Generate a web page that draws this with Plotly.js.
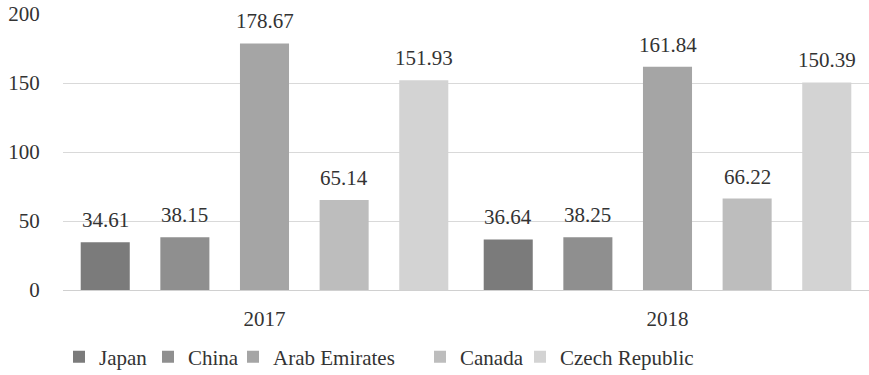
<!DOCTYPE html>
<html>
<head>
<meta charset="utf-8">
<script src="https://cdn.plot.ly/plotly-3.0.1.min.js"></script>
<style>
html,body{margin:0;padding:0;background:#fff;}
#chart{position:relative;width:869px;height:375px;}
#fontwarm{position:absolute;left:0;top:0;z-index:-1;color:#ffffff;font-family:'Liberation Serif';font-size:21px;white-space:nowrap;}
</style>
</head>
<body>
<div id="fontwarm">Japan China Arab Emirates Canada Czech Republic 0123456789.</div>
<div id="chart"></div>
<script>
const years = ["2017", "2018"];
const seriesNames = ["Japan", "China", "Arab Emirates", "Canada", "Czech Republic"];
const japan = [34.61, 36.64];
const china = [38.15, 38.25];
const arabEmirates = [178.67, 161.84];
const canada = [65.14, 66.22];
const czechRepublic = [151.93, 150.39];
const seriesValues = [japan, china, arabEmirates, canada, czechRepublic];
const colors = ["#7b7b7b", "#8f8f8f", "#a5a5a5", "#bdbdbd", "#d3d3d3"];
// legend text start positions (px) as in the reference
const legendTextX = [99, 188, 273, 460, 560];

const FONT = "Liberation Serif";
const TXT = "#333333";
const FS = 21;
const bargap = 0.012;
const bargroupgap = 0.384;
const M = { l: 63, r: 0, t: 14, b: 85 };
const W = 869, H = 375;
const plotW = W - M.l - M.r;

const legendKeys = ["legend", "legend2", "legend3", "legend4", "legend5"];

function build() {
  const traces = seriesNames.map((name, i) => ({
    type: "bar",
    name: name,
    x: years,
    y: seriesValues[i],
    marker: { color: colors[i] },
    legend: legendKeys[i],
    hoverinfo: "skip"
  }));

  const n = seriesNames.length;
  const slot = (1 - bargap) / n;
  const annotations = [];
  seriesValues.forEach((vals, i) => {
    vals.forEach((v, j) => {
      annotations.push({
        xref: "x", yref: "y",
        x: j + (i - (n - 1) / 2) * slot,
        y: v,
        text: v.toFixed(2),
        showarrow: false,
        yanchor: "bottom",
        yshift: 8,
        font: { family: FONT, size: FS, color: TXT }
      });
    });
  });

  const layout = {
    width: W, height: H,
    margin: M,
    paper_bgcolor: "rgba(255,255,255,0)",
    plot_bgcolor: "rgba(255,255,255,0)",
    barmode: "group",
    bargap: bargap,
    bargroupgap: bargroupgap,
    showlegend: true,
    font: { family: FONT, size: FS, color: TXT },
    xaxis: {
      type: "category",
      showgrid: false,
      showline: false,
      zeroline: false,
      ticks: "outside", ticklen: 10, tickcolor: "rgba(0,0,0,0)",
      tickfont: { family: FONT, size: FS, color: TXT }
    },
    yaxis: {
      range: [0, 200],
      tickvals: [0, 50, 100, 150, 200],
      showgrid: true,
      gridcolor: "#d9d9d9",
      gridwidth: 1,
      zeroline: true,
      zerolinecolor: "#d0d0d0",
      zerolinewidth: 1,
      showline: false,
      ticks: "outside", ticklen: 18, tickcolor: "rgba(0,0,0,0)",
      tickfont: { family: FONT, size: FS, color: TXT }
    },
    annotations: annotations
  };

  legendKeys.forEach((k, i) => {
    layout[k] = {
      orientation: "h",
      x: (legendTextX[i] - 40 - M.l) / plotW,
      xanchor: "left",
      yref: "container",
      y: 1 - 357 / H, yanchor: "middle",
      bgcolor: "rgba(0,0,0,0)",
      font: { family: FONT, size: FS, color: TXT },
      itemwidth: 30
    };
  });
  return { traces, layout };
}

function draw() {
  const b = build();
  Plotly.newPlot("chart", b.traces, b.layout, { displayModeBar: false, staticPlot: true });
}

draw();
if (document.fonts && document.fonts.load) {
  document.fonts.load("21px 'Liberation Serif'").then(draw).catch(function () {});
}
</script>
</body>
</html>
